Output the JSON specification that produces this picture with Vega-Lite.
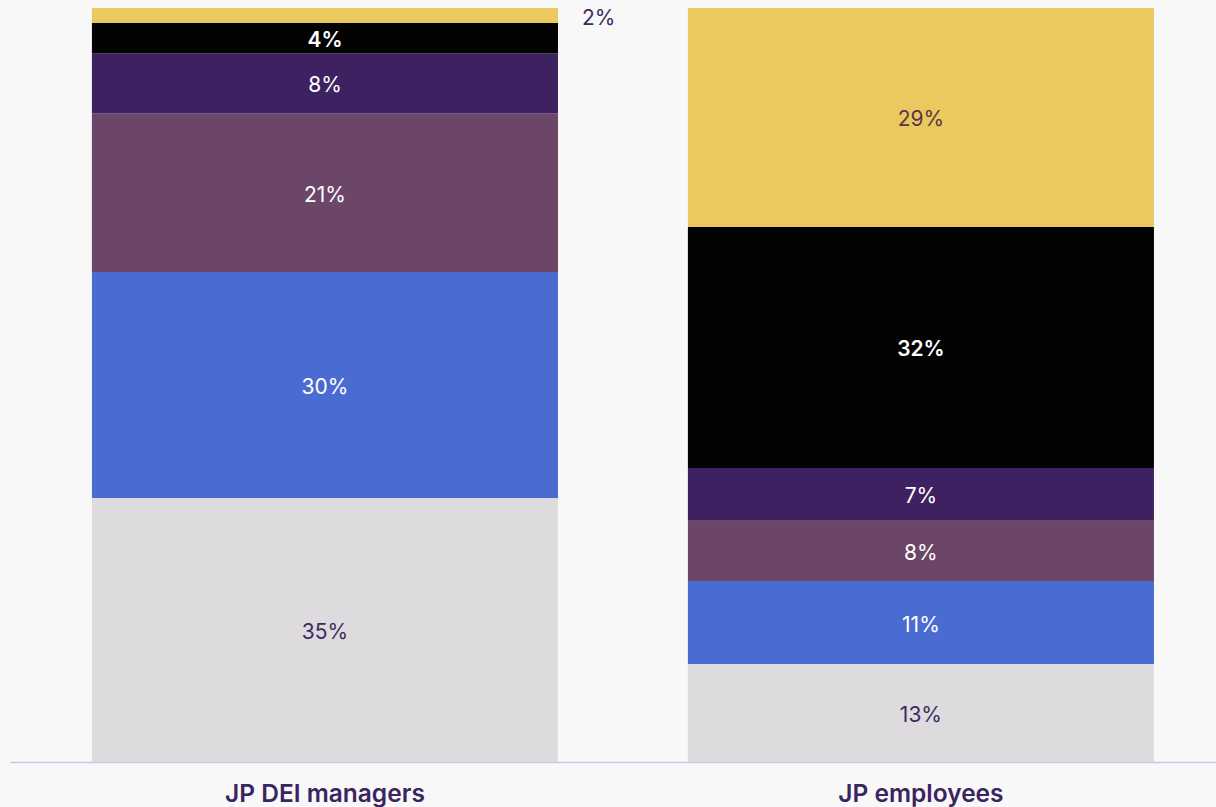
{
  "$schema": "https://vega.github.io/schema/vega-lite/v6.json",
  "width": 1206,
  "height": 754,
  "autosize": {"type": "none"},
  "padding": {"left": 10, "top": 8, "right": 0, "bottom": 45},
  "background": "#f8f8f8",
  "config": {"view": {"stroke": null}, "font": "Inter"},
  "data": {"values": [
    {"group": "JP DEI managers", "cat": "c1", "order": 1, "value": 35, "label": "35%"},
    {"group": "JP DEI managers", "cat": "c2", "order": 2, "value": 30, "label": "30%"},
    {"group": "JP DEI managers", "cat": "c3", "order": 3, "value": 21, "label": "21%"},
    {"group": "JP DEI managers", "cat": "c4", "order": 4, "value": 8, "label": "8%"},
    {"group": "JP DEI managers", "cat": "c5", "order": 5, "value": 4, "label": "4%"},
    {"group": "JP DEI managers", "cat": "c6", "order": 6, "value": 2, "label": "2%"},
    {"group": "JP employees", "cat": "c1", "order": 1, "value": 13, "label": "13%"},
    {"group": "JP employees", "cat": "c2", "order": 2, "value": 11, "label": "11%"},
    {"group": "JP employees", "cat": "c3", "order": 3, "value": 8, "label": "8%"},
    {"group": "JP employees", "cat": "c4", "order": 4, "value": 7, "label": "7%"},
    {"group": "JP employees", "cat": "c5", "order": 5, "value": 32, "label": "32%"},
    {"group": "JP employees", "cat": "c6", "order": 6, "value": 29, "label": "29%"}
  ]},
  "transform": [
    {"stack": "value", "groupby": ["group"], "sort": [{"field": "order"}], "as": ["y0", "y1"]},
    {"calculate": "(datum.y0 + datum.y1) / 2", "as": "mid"}
  ],
  "encoding": {
    "x": {
      "field": "group", "type": "nominal", "sort": ["JP DEI managers", "JP employees"],
      "scale": {"paddingInner": 0.218, "paddingOuter": 0.1208, "align": 0.569},
      "axis": {
        "title": null, "ticks": false, "labelAngle": 0, "labelLimit": 0,
        "domainColor": "#cbc3ee", "domainWidth": 1.5,
        "labelFont": "Inter", "labelFontSize": 24.5, "labelFontWeight": 600,
        "labelColor": "#3a2560", "labelPadding": 20
      }
    }
  },
  "layer": [
    {
      "mark": {"type": "bar"},
      "encoding": {
        "y": {"field": "y0", "type": "quantitative", "scale": {"domain": [0, 100], "nice": false}, "axis": null},
        "y2": {"field": "y1"},
        "color": {
          "field": "cat", "type": "nominal", "legend": null,
          "scale": {"domain": ["c1", "c2", "c3", "c4", "c5", "c6"],
                    "range": ["#dedbdf", "#4a6bd2", "#6c4668", "#3e2160", "#030303", "#ebc95f"]}
        }
      }
    },
    {
      "transform": [{"filter": "datum.value > 2 && datum.cat !== 'c5' && datum.cat !== 'c6'"}],
      "mark": {"type": "text", "fontSize": 21, "baseline": "middle", "align": "center", "dy": 3},
      "encoding": {
        "y": {"field": "mid", "type": "quantitative"},
        "text": {"field": "label"},
        "color": {
          "condition": {"test": "datum.cat === 'c1'", "value": "#3d2b5e"},
          "value": "#ffffff"
        }
      }
    },
    {
      "transform": [{"filter": "datum.cat === 'c6' && datum.value > 2"}],
      "mark": {"type": "text", "fontSize": 21, "baseline": "middle", "align": "center", "dy": 3, "color": "#573746"},
      "encoding": {
        "y": {"field": "mid", "type": "quantitative"},
        "text": {"field": "label"}
      }
    },
    {
      "transform": [{"filter": "datum.cat === 'c5'"}],
      "mark": {"type": "text", "fontSize": 21, "fontWeight": 600, "baseline": "middle", "align": "center", "dy": 3, "color": "#ffffff"},
      "encoding": {
        "y": {"field": "mid", "type": "quantitative"},
        "text": {"field": "label"}
      }
    },
    {
      "transform": [{"filter": "datum.value <= 2"}],
      "mark": {"type": "text", "fontSize": 21, "baseline": "middle", "align": "left", "dx": 24, "dy": 3, "color": "#3d2b5e"},
      "encoding": {
        "x": {"field": "group", "type": "nominal", "bandPosition": 1},
        "y": {"field": "mid", "type": "quantitative"},
        "text": {"field": "label"}
      }
    }
  ]
}
